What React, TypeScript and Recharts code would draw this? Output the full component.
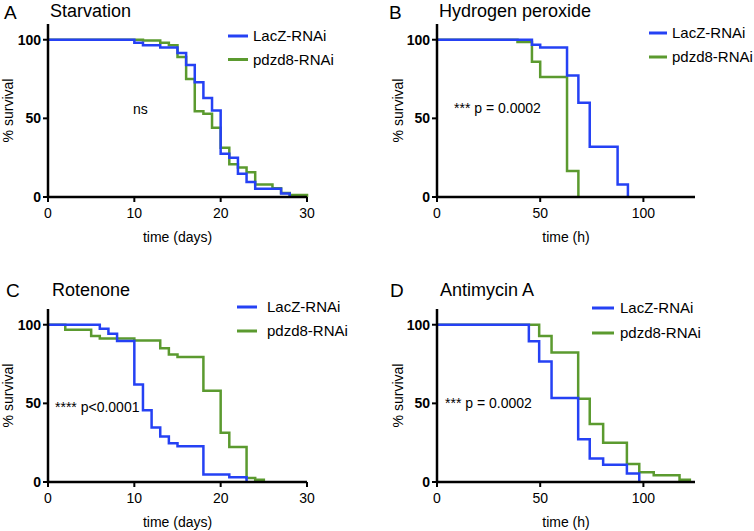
import { LineChart, Line, XAxis, YAxis, Legend } from 'recharts'

// survival curves, [time, % survival]
const starvationLacZ = [[0, 100], [10, 98], [11, 96.5], [13, 95], [15, 91.5], [16, 84], [17, 73], [18, 63], [19, 55], [20, 27.5], [21, 25], [22, 14.8], [23, 9.5], [24, 5.2], [27, 2.2], [28, 0]]
const starvationPdzd8 = [[0, 100], [11, 99.5], [13, 98], [14, 96.5], [15, 89], [16, 75], [17, 54.5], [18, 53], [19, 44], [20, 31.3], [21, 20.8], [22, 18.8], [23, 15.8], [24, 8], [26, 5.6], [27, 2.6], [28, 1.3], [30, 0]]

const peroxideLacZ = [[0, 100], [46, 96.8], [50, 95], [63, 77.2], [68.5, 60], [74, 32], [87.5, 8], [92.5, 0]]
const peroxidePdzd8 = [[0, 100], [39, 98.5], [46, 86], [50, 76.3], [63, 16.5], [68.5, 0]]

const rotenoneLacZ = [[0, 100], [6, 97.4], [7, 94.3], [8, 89.7], [10, 62], [11, 45.6], [12, 34.7], [13, 29], [14, 24.6], [15, 22.7], [18, 4.7], [21, 3.1], [23, 0]]
const rotenonePdzd8 = [[0, 100], [2, 96.8], [5, 92.8], [6, 91.2], [10, 90], [13, 85], [14, 81], [15, 79.5], [18, 58], [20, 31.3], [21, 22.2], [23, 2.6], [24, 1.4], [25, 0]]

const antimycinLacZ = [[0, 100], [44.5, 89.5], [49.5, 76.6], [55.5, 53.4], [68.4, 27.2], [74, 14.9], [80.5, 10.9], [92, 5.4], [98, 0]]
const antimycinPdzd8 = [[0, 100], [49.5, 92.8], [55.5, 82.3], [68.4, 53], [74, 36.8], [80.5, 24.9], [92, 11.5], [98, 6.2], [105, 4.3], [117.5, 1.5], [122.5, 0]]

const daysTicks = [0, 10, 20, 30]
const hoursTicks = [0, 50, 100]
const survivalTicks = [0, 50, 100]
const seriesNames = ['LacZ-RNAi', 'pdzd8-RNAi']

const FONT = '"Liberation Sans", Arial, Helvetica, sans-serif'
const BLUE = '#2541f4'
const GREEN = '#5b9a2f'

const rows = (pts: number[][]) => pts.map(([t, s]) => ({ t, s }))

type LegendCfg = { left: number; top: number; lineLen: number; gap: number; spacing: number }

function SurvivalLegend({ cfg }: { cfg: LegendCfg }) {
  const colors = [BLUE, GREEN]
  return (
    <svg width={140} height={cfg.spacing + 18} style={{ display: 'block' }}>
      {seriesNames.map((name, i) => {
        const y = 8 + i * cfg.spacing
        return (
          <g key={name}>
            <line x1={0} x2={cfg.lineLen} y1={y} y2={y} stroke={colors[i]} strokeWidth={3} />
            <text x={cfg.lineLen + cfg.gap} y={y + 5.4} fontSize={15} fontFamily={FONT} fill="#000">
              {name}
            </text>
          </g>
        )
      })}
    </svg>
  )
}

type PanelProps = {
  left: number
  top: number
  height: number
  margin: { top: number; right: number; bottom: number; left: number }
  xDomain: number[]
  xTicks: number[]
  xLabel: string
  yLabelOffset: number
  lacz: number[][]
  pdzd8: number[][]
  legend: LegendCfg
}

function SurvivalPanel(p: PanelProps) {
  return (
    <div style={{ position: 'absolute', left: p.left, top: p.top }}>
      <LineChart width={377} height={p.height} margin={p.margin}>
        <XAxis
          type="number"
          dataKey="t"
          domain={p.xDomain}
          ticks={p.xTicks}
          height={48}
          tickSize={5}
          tickMargin={6}
          axisLine={{ stroke: '#000', strokeWidth: 2.5 }}
          tickLine={{ stroke: '#000', strokeWidth: 2 }}
          tick={{ fill: '#000', fontSize: 14, fontFamily: FONT }}
          label={{ value: p.xLabel, position: 'insideBottom', offset: 3, fill: '#000', fontSize: 14, fontFamily: FONT }}
        />
        <YAxis
          type="number"
          domain={[0, 110]}
          ticks={survivalTicks}
          width={48}
          tickSize={5}
          tickMargin={2}
          axisLine={{ stroke: '#000', strokeWidth: 2.5 }}
          tickLine={{ stroke: '#000', strokeWidth: 2 }}
          tick={{ fill: '#000', fontSize: 14, fontWeight: 700, fontFamily: FONT }}
          label={{
            value: '% survival',
            angle: -90,
            position: 'insideLeft',
            offset: p.yLabelOffset,
            fill: '#000',
            fontSize: 14,
            fontFamily: FONT,
            style: { textAnchor: 'middle' },
          }}
        />
        <Line data={rows(p.pdzd8)} dataKey="s" type="stepAfter" stroke={GREEN} strokeWidth={2.5} dot={false} isAnimationActive={false} />
        <Line data={rows(p.lacz)} dataKey="s" type="stepAfter" stroke={BLUE} strokeWidth={2.5} dot={false} isAnimationActive={false} />
        <Legend
          layout="vertical"
          align="center"
          verticalAlign="middle"
          content={() => <SurvivalLegend cfg={p.legend} />}
          wrapperStyle={{ left: p.legend.left, top: p.legend.top, width: 140, height: 'auto' }}
        />
      </LineChart>
    </div>
  )
}

export default function App() {
  const txt = { fontFamily: FONT, fill: '#000' }
  return (
    <div style={{ position: 'absolute', left: 0, top: 0, width: 754, height: 531, background: '#fff', overflow: 'hidden' }}>
      <SurvivalPanel
        left={0} top={0} height={265}
        margin={{ top: 24, right: 70, bottom: 20, left: 0 }}
        xDomain={[0, 30]} xTicks={daysTicks} xLabel="time (days)" yLabelOffset={8}
        lacz={starvationLacZ} pdzd8={starvationPdzd8}
        legend={{ left: 228, top: 27.5, lineLen: 20, gap: 5, spacing: 23.5 }}
      />
      <SurvivalPanel
        left={377} top={0} height={265}
        margin={{ top: 24, right: 59, bottom: 20, left: 12 }}
        xDomain={[0, 125]} xTicks={hoursTicks} xLabel="time (h)" yLabelOffset={9}
        lacz={peroxideLacZ} pdzd8={peroxidePdzd8}
        legend={{ left: 272, top: 25, lineLen: 18, gap: 5, spacing: 24 }}
      />
      <SurvivalPanel
        left={0} top={265} height={266}
        margin={{ top: 44, right: 70, bottom: 1, left: 0 }}
        xDomain={[0, 30]} xTicks={daysTicks} xLabel="time (days)" yLabelOffset={8}
        lacz={rotenoneLacZ} pdzd8={rotenonePdzd8}
        legend={{ left: 237, top: 34, lineLen: 20, gap: 10, spacing: 24 }}
      />
      <SurvivalPanel
        left={377} top={265} height={266}
        margin={{ top: 44, right: 59, bottom: 1, left: 12 }}
        xDomain={[0, 125]} xTicks={hoursTicks} xLabel="time (h)" yLabelOffset={9}
        lacz={antimycinLacZ} pdzd8={antimycinPdzd8}
        legend={{ left: 215, top: 35, lineLen: 22, gap: 6, spacing: 25 }}
      />
      <svg width={754} height={531} style={{ position: 'absolute', left: 0, top: 0, pointerEvents: 'none' }}>
        <text x={4} y={18.5} fontSize={19} {...txt}>A</text>
        <text x={50} y={17} fontSize={18} {...txt}>Starvation</text>
        <text x={389} y={18.5} fontSize={19} {...txt}>B</text>
        <text x={439} y={17} fontSize={18} {...txt}>Hydrogen peroxide</text>
        <text x={6} y={296.5} fontSize={19} {...txt}>C</text>
        <text x={52} y={296} fontSize={18} {...txt}>Rotenone</text>
        <text x={390} y={296.5} fontSize={19} {...txt}>D</text>
        <text x={440} y={296} fontSize={18} {...txt}>Antimycin A</text>
        <text x={133} y={114} fontSize={14} {...txt}>ns</text>
        <text x={454} y={113} fontSize={14} {...txt}>*** p = 0.0002</text>
        <text x={55} y={411.5} fontSize={14} {...txt}>**** p&lt;0.0001</text>
        <text x={445} y={408} fontSize={14} {...txt}>*** p = 0.0002</text>
      </svg>
    </div>
  )
}
